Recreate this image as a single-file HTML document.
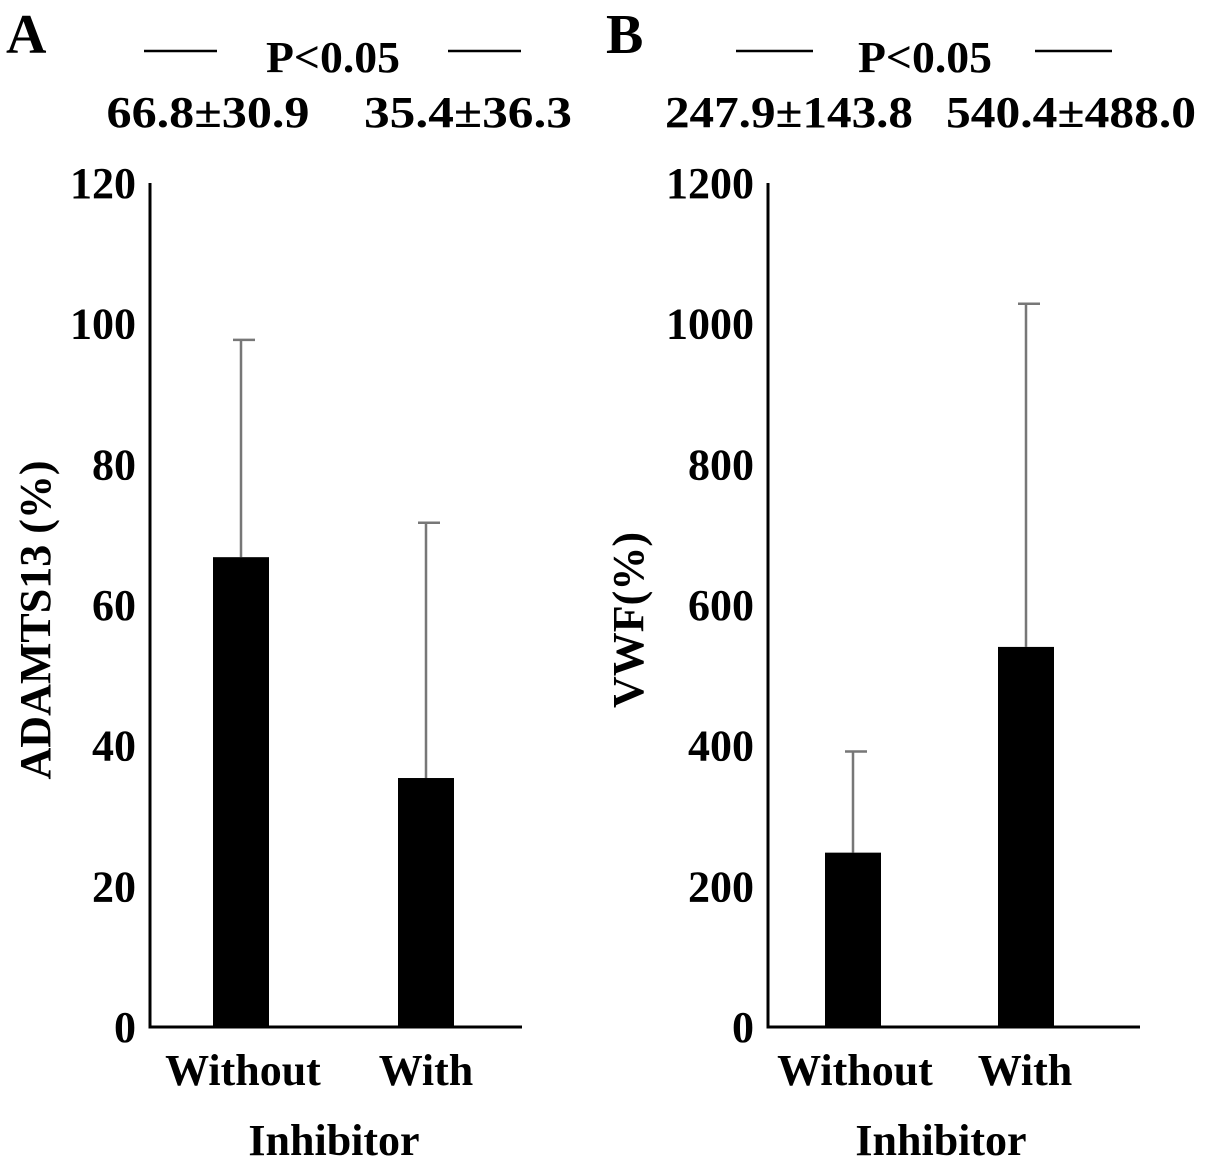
<!DOCTYPE html>
<html><head><meta charset="utf-8"><style>
html,body{margin:0;padding:0;background:#fff}
svg{display:block}
text{font-family:"Liberation Serif","Noto Serif CJK SC",serif;font-weight:bold;fill:#000}
</style></head><body>
<svg id="c" width="1205" height="1167" xmlns="http://www.w3.org/2000/svg"></svg>
<script>
const categories = ["Without", "With"];
const aMeans = [66.8, 35.4];
const aSDs = [30.9, 36.3];
const aTicks = [0, 20, 40, 60, 80, 100, 120];
const bMeans = [247.9, 540.4];
const bSDs = [143.8, 488.0];
const bTicks = [0, 200, 400, 600, 800, 1000, 1200];
const aLabels = ["66.8±30.9", "35.4±36.3"];
const bLabels = ["247.9±143.8", "540.4±488.0"];

const NS = "http://www.w3.org/2000/svg";
const svg = document.getElementById('c');
function mk(tag, attrs, txt, parent) {
  const e = document.createElementNS(NS, tag);
  for (const k in attrs) e.setAttribute(k, attrs[k]);
  if (txt !== undefined) e.textContent = txt;
  (parent || svg).appendChild(e);
  return e;
}
function panel(p) {
  const g = mk('g', {});
  
  
  const y0 = 1027, y1 = 183, max = p.ticks[p.ticks.length - 1];
  const ys = v => y0 - (v / max) * (y0 - y1);
  let e = mk('text', {x: p.letterX, y: 53, 'font-size': 56}, p.letter, g);
  
  
  e = mk('text', {x: p.pX, y: 72, 'font-size': 44, 'text-anchor': 'middle', textLength: 134, lengthAdjust: 'spacingAndGlyphs'}, 'P<0.05', g);
  
  
  for (const [a, b] of p.dashes) {
    e = mk('line', {x1: a, x2: b, y1: 51, y2: 51, stroke: '#000', 'stroke-width': 2.5}, undefined, g);
    
    
  }
  p.labels.forEach((l, i) => {
    e = mk('text', {x: p.labX[i], y: 127, 'font-size': 44, 'text-anchor': 'middle', textLength: p.labW[i], lengthAdjust: 'spacingAndGlyphs'}, l, g);
    
    
  });
  p.ticks.forEach(t => {
    e = mk('text', {x: p.ax - 14, y: ys(t) + 15, 'font-size': 44, 'text-anchor': 'end'}, String(t), g);
    
    
  });
  p.means.forEach((m, i) => {
    const cx = p.cx[i];
    e = mk('line', {x1: cx, x2: cx, y1: ys(m), y2: ys(m + p.sds[i]), stroke: '#777', 'stroke-width': 2.5}, undefined, g);
    
    
    e = mk('line', {x1: cx - 8, x2: cx + 14, y1: ys(m + p.sds[i]), y2: ys(m + p.sds[i]), stroke: '#777', 'stroke-width': 2.5}, undefined, g);
    
    
    e = mk('rect', {x: cx - 28, y: ys(m), width: 56, height: y0 - ys(m), fill: '#000'}, undefined, g);
    
    
    e = mk('text', {x: p.xl[i], y: 1085, 'font-size': 44, 'text-anchor': 'middle'}, categories[i], g);
    
    
  });
  e = mk('path', {d: `M${p.ax},${y1} V${y0} H${p.axEnd}`, fill: 'none', stroke: '#000', 'stroke-width': 3}, undefined, g);
  
  
  e = mk('text', {x: p.xTitleX, y: 1155, 'font-size': 44, 'text-anchor': 'middle'}, 'Inhibitor', g);
  
  
  e = mk('text', {x: 0, y: 0, 'font-size': 44, 'text-anchor': 'middle', transform: `translate(${p.ytX},${p.ytY}) rotate(-90)`}, p.yTitle, g);
  
  
}
panel({id: 'a', letter: 'A', letterX: 6, pX: 333, dashes: [[144, 217], [448, 521]], labels: aLabels, labX: [208, 468], labW: [203, 208],
  ticks: aTicks, ax: 150, axEnd: 522, means: aMeans, sds: aSDs, cx: [241, 426], xl: [243, 426], xTitleX: 334,
  yTitle: 'ADAMTS13 (%)', ytX: 50, ytY: 620});
panel({id: 'b', letter: 'B', letterX: 606, pX: 925, dashes: [[736, 813], [1035, 1112]], labels: bLabels, labX: [789, 1071], labW: [248, 250],
  ticks: bTicks, ax: 768, axEnd: 1140, means: bMeans, sds: bSDs, cx: [853, 1026], xl: [855, 1025], xTitleX: 941,
  yTitle: 'VWF(%)', ytX: 643, ytY: 620});
</script>
</body></html>
